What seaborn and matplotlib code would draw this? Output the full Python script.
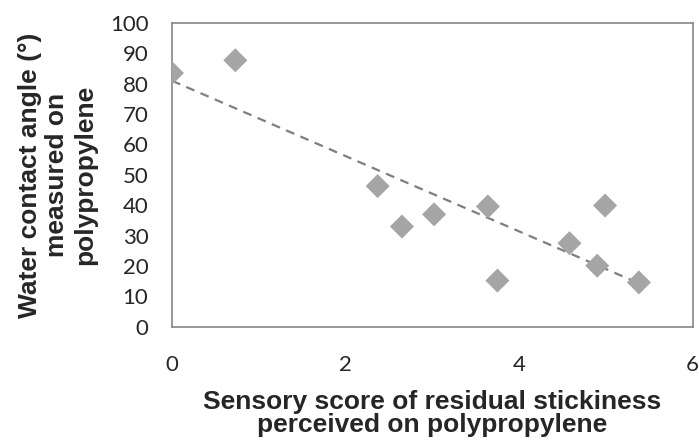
import matplotlib
matplotlib.use("Agg")
import matplotlib.pyplot as plt
import seaborn as sns
import pandas as pd

# values
stickiness = [0.0, 0.73, 2.37, 2.65, 3.02, 3.64, 3.75, 4.58, 4.90, 4.99, 5.38]
contact_angle = [83.5, 87.7, 46.3, 33.0, 37.0, 39.6, 15.2, 27.5, 20.1, 39.9, 14.6]
x_ticks = [0, 2, 4, 6]
y_ticks = list(range(0, 101, 10))

data = pd.DataFrame({"stickiness": stickiness, "angle": contact_angle})

sns.set_style("white")
plt.rcParams["font.family"] = ["Liberation Sans", "DejaVu Sans"]

fig = plt.figure(figsize=(6.99, 4.41), dpi=100)
ax = fig.add_axes([0.246, 0.259, 0.745, 0.689])

sns.regplot(x="stickiness", y="angle", data=data, scatter=False, ci=None,
            ax=ax, line_kws={"color": "#7f7f7f", "lw": 1.6, "ls": (0, (4, 3))})
sns.scatterplot(x="stickiness", y="angle", data=data, ax=ax, marker="D",
                s=150, color="#a5a5a5", edgecolor="none", zorder=3)

ax.set_xlim(0, 6)
ax.set_ylim(0, 100)
ax.set_xticks(x_ticks)
ax.set_yticks(y_ticks)
for side in ax.spines.values():
    side.set_color("#868686")
    side.set_linewidth(1.2)
ax.tick_params(axis="both", direction="out", length=6, width=1.2,
               color="#868686", labelsize=16)
ax.tick_params(axis="y", pad=11)
ax.tick_params(axis="x", pad=14)
for lab in ax.get_xticklabels() + ax.get_yticklabels():
    lab.set_family(["Lato", "DejaVu Sans"])

ax.set_xlabel("Sensory score of residual stickiness\nperceived on polypropylene",
              fontsize=19, fontweight="bold", labelpad=11, linespacing=0.98)
ax.set_ylabel("Water contact angle (°)\nmeasured on\npolypropylene",
              fontsize=19, fontweight="bold", labelpad=9, linespacing=1.2)

fig.savefig("out.png", dpi=100)
